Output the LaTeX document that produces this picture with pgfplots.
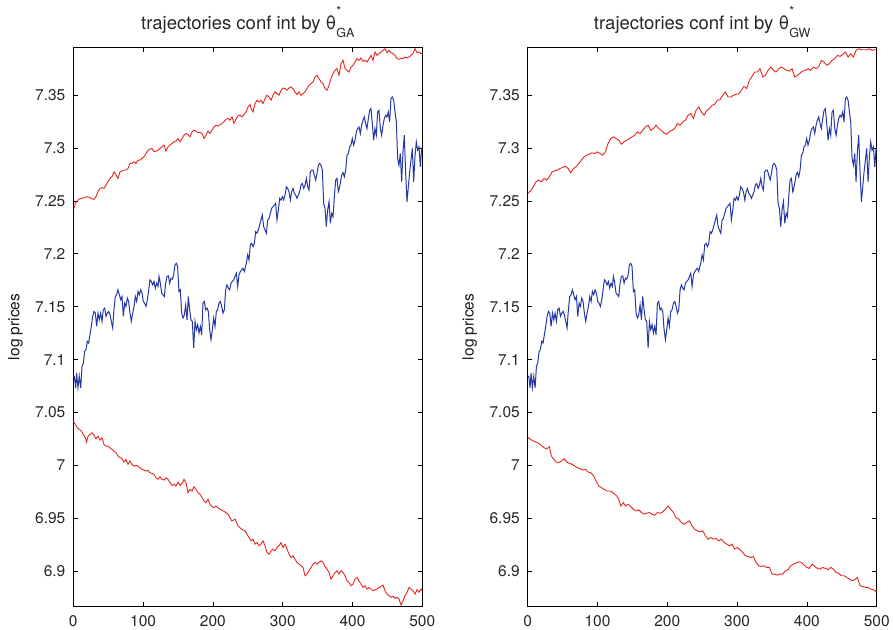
\documentclass[border=0pt]{standalone}
\usepackage{pgfplots}
\pgfplotsset{compat=1.18}
\usepackage{pgfplotstable}
\usepackage{fontspec}
\setmainfont{TeX Gyre Heros}
\definecolor{tblue}{RGB}{38,56,166}
\definecolor{tred}{RGB}{230,38,30}

% blue trajectory (same in both panels)
\pgfplotstableread{
x y
0 7.0840
1.5 7.0843
3.4 7.0733
4.8 7.0874
6.7 7.0733
8.6 7.0843
10.6 7.0733
12.5 7.0937
14.4 7.0968
16.3 7.1078
18.2 7.1094
20.1 7.1173
22.0 7.1157
23.9 7.1236
25.8 7.1314
27.8 7.1409
29.7 7.1456
31.6 7.1440
33.5 7.1314
35.4 7.1440
37.3 7.1377
39.2 7.1440
41.1 7.1362
43.0 7.1472
45.0 7.1487
46.9 7.1409
48.8 7.1440
50.7 7.1456
52.6 7.1424
54.5 7.1362
56.4 7.1299
58.3 7.1472
60.2 7.1597
62.1 7.1613
64.0 7.1660
66.0 7.1613
67.9 7.1566
69.8 7.1597
71.7 7.1409
73.6 7.1534
75.5 7.1503
77.4 7.1582
79.3 7.1550
81.2 7.1440
83.1 7.1362
85.1 7.1440
87.0 7.1503
88.9 7.1597
90.8 7.1550
92.7 7.1645
94.6 7.1613
96.5 7.1660
98.4 7.1629
100.3 7.1550
102.2 7.1534
104.2 7.1503
106.1 7.1566
108.0 7.1660
109.9 7.1755
111.8 7.1739
113.7 7.1707
115.6 7.1739
117.5 7.1676
119.4 7.1723
121.4 7.1692
122.8 7.1786
124.7 7.1723
126.6 7.1628
128.5 7.1613
130.4 7.1597
132.3 7.1723
134.2 7.1786
136.2 7.1792
138.1 7.1723
140.0 7.1770
141.9 7.1761
143.8 7.1801
145.7 7.1896
147.6 7.1911
149.5 7.1880
151.4 7.1644
153.3 7.1660
155.3 7.1440
157.2 7.1393
159.1 7.1424
161.0 7.1518
162.9 7.1377
164.8 7.1597
166.7 7.1471
168.6 7.1377
170.5 7.1361
172.5 7.1110
174.4 7.1361
176.3 7.1283
178.2 7.1330
180.1 7.1251
182.0 7.1314
183.9 7.1235
185.8 7.1534
187.7 7.1550
189.6 7.1471
191.6 7.1487
193.5 7.1455
195.4 7.1283
197.3 7.1188
199.2 7.1283
201.1 7.1393
203.0 7.1314
204.9 7.1455
206.8 7.1471
208.7 7.1534
210.7 7.1550
212.6 7.1503
214.5 7.1440
216.4 7.1471
218.3 7.1660
220.2 7.1707
222.1 7.1676
224.0 7.1660
225.9 7.1723
227.8 7.1739
229.8 7.1754
231.7 7.1786
233.6 7.1817
235.5 7.1691
237.4 7.1801
239.3 7.1833
241.2 7.1849
243.1 7.1864
245.0 7.1833
247.9 7.1912
249.8 7.1990
251.7 7.1943
253.6 7.2085
255.6 7.2100
257.5 7.2069
259.4 7.2100
261.3 7.2210
263.2 7.2195
265.1 7.2226
267.0 7.2273
268.9 7.2321
270.8 7.2368
272.7 7.2258
274.7 7.2226
276.6 7.2195
278.5 7.2321
280.4 7.2336
282.3 7.2383
284.2 7.2431
286.1 7.2446
288.0 7.2462
289.9 7.2478
291.8 7.2321
293.8 7.2415
295.7 7.2525
297.6 7.2509
299.5 7.2541
301.4 7.2509
303.3 7.2556
305.2 7.2635
307.1 7.2619
309.0 7.2588
311.0 7.2509
312.9 7.2588
314.8 7.2619
316.7 7.2572
318.6 7.2556
320.5 7.2525
322.4 7.2556
324.3 7.2588
326.2 7.2651
328.1 7.2666
330.1 7.2619
332.0 7.2651
333.9 7.2714
335.8 7.2635
337.7 7.2604
339.6 7.2777
341.5 7.2792
343.4 7.2792
345.3 7.2745
347.3 7.2698
349.2 7.2761
351.1 7.2839
353.0 7.2855
354.9 7.2839
356.8 7.2792
358.7 7.2478
360.6 7.2431
362.5 7.2258
364.4 7.2415
366.4 7.2493
368.3 7.2289
370.2 7.2383
372.1 7.2352
374.0 7.2541
375.9 7.2698
377.8 7.2714
379.7 7.2588
380.6 7.2603
382.5 7.2666
384.5 7.2745
386.4 7.2770
388.3 7.2729
390.2 7.2792
392.1 7.2934
394.0 7.2949
395.9 7.3012
397.8 7.3028
399.7 7.3091
401.6 7.3028
403.6 7.3075
405.5 7.3154
407.4 7.3185
409.3 7.3201
411.2 7.3138
413.1 7.3217
415.0 7.3264
416.9 7.3295
418.8 7.3232
420.7 7.3185
422.7 7.3280
424.6 7.3358
426.5 7.3374
428.4 7.3232
430.3 7.3075
432.2 7.3185
434.1 7.3122
436.0 7.3342
437.9 7.3358
439.9 7.3185
441.8 7.3122
443.7 7.3217
445.6 7.3280
447.5 7.3311
449.4 7.3295
451.3 7.3342
453.2 7.3248
455.1 7.3468
457.0 7.3484
459.0 7.3452
460.9 7.3342
462.8 7.3248
464.7 7.2902
466.6 7.2839
468.5 7.2949
470.4 7.2682
472.3 7.2965
474.2 7.3122
476.1 7.2776
478.1 7.2493
480.0 7.2635
481.9 7.2776
483.8 7.2886
485.7 7.2997
487.6 7.2682
489.5 7.2918
491.4 7.3059
493.3 7.2981
495.3 7.3012
497.2 7.2823
499.1 7.2997
500 7.3010
}\blueT

% upper bound, left panel
\pgfplotstableread{
x y
0 7.2430
1.0 7.2431
2.9 7.2478
4.8 7.2494
8.6 7.2519
12.5 7.2525
16.3 7.2532
20.1 7.2541
24.0 7.2532
26.8 7.2519
29.7 7.2516
32.5 7.2541
35.4 7.2588
38.3 7.2620
41.1 7.2626
44.0 7.2620
46.9 7.2651
49.7 7.2683
52.6 7.2714
55.5 7.2730
58.3 7.2777
61.2 7.2745
64.0 7.2714
66.9 7.2777
69.8 7.2783
72.6 7.2793
75.5 7.2793
78.4 7.2808
81.2 7.2856
84.1 7.2856
87.0 7.2871
89.8 7.2856
92.7 7.2887
95.6 7.2887
98.4 7.2903
101.3 7.2918
104.2 7.2950
107.0 7.2981
109.9 7.2991
112.8 7.2997
115.6 7.2966
118.5 7.2972
121.4 7.2981
124.2 7.2997
127.1 7.3013
130.0 7.3029
132.8 7.2972
135.7 7.3013
138.5 7.3029
141.4 7.3044
144.3 7.3060
147.1 7.3066
150.0 7.3091
152.9 7.3060
155.7 7.3091
158.6 7.3123
161.5 7.3139
164.3 7.3129
167.2 7.3107
170.1 7.3154
172.9 7.3170
175.8 7.3161
178.7 7.3148
181.5 7.3148
184.4 7.3139
187.3 7.3091
190.1 7.3123
193.0 7.3161
195.9 7.3139
198.7 7.3170
201.6 7.3202
204.5 7.3217
207.3 7.3208
210.2 7.3224
213.1 7.3233
215.9 7.3249
218.8 7.3274
221.7 7.3280
224.5 7.3264
227.4 7.3296
230.2 7.3233
233.1 7.3274
236.0 7.3305
238.8 7.3312
241.7 7.3296
244.6 7.3318
247.4 7.3343
250.3 7.3390
253.2 7.3412
254.6 7.3374
257.5 7.3343
260.3 7.3422
263.2 7.3453
266.1 7.3437
268.9 7.3453
271.8 7.3422
274.7 7.3469
277.5 7.3500
280.4 7.3485
283.3 7.3453
286.1 7.3500
289.0 7.3532
291.8 7.3516
294.7 7.3500
297.6 7.3547
300.4 7.3569
303.3 7.3563
306.2 7.3547
309.0 7.3569
311.9 7.3579
314.8 7.3563
317.6 7.3532
320.5 7.3507
323.4 7.3532
326.2 7.3500
329.1 7.3516
332.0 7.3532
334.8 7.3563
337.7 7.3595
340.6 7.3610
343.4 7.3626
346.3 7.3673
349.2 7.3689
352.0 7.3658
354.9 7.3626
357.8 7.3610
360.6 7.3563
363.5 7.3547
366.4 7.3595
369.2 7.3658
372.1 7.3705
375.0 7.3736
377.8 7.3752
380.7 7.3689
383.5 7.3799
386.4 7.3831
389.3 7.3752
392.1 7.3736
395.0 7.3720
397.9 7.3768
400.7 7.3783
403.6 7.3815
406.5 7.3846
409.3 7.3830
412.2 7.3852
415.1 7.3821
417.9 7.3830
420.8 7.3815
423.7 7.3846
426.5 7.3878
429.4 7.3830
432.3 7.3909
435.1 7.3878
438.0 7.3893
440.9 7.3909
443.7 7.3925
446.6 7.3941
449.5 7.3903
452.3 7.3925
455.2 7.3903
458.1 7.3893
460.9 7.3878
463.8 7.3846
466.7 7.3840
469.5 7.3852
472.4 7.3846
475.2 7.3862
478.1 7.3852
481.0 7.3862
483.8 7.3878
486.7 7.3893
489.6 7.3941
492.4 7.3903
495.3 7.3909
498.2 7.3893
500 7.3900
}\redupA

% lower bound, left panel
\pgfplotstableread{
x y
0 7.0418
2.9 7.0387
5.8 7.0355
8.6 7.0339
11.5 7.0324
14.4 7.0292
17.2 7.0261
19.1 7.0220
21.1 7.0276
24.0 7.0292
26.8 7.0308
29.7 7.0283
32.5 7.0251
35.4 7.0276
38.3 7.0239
41.1 7.0261
44.0 7.0198
46.9 7.0182
49.7 7.0182
52.6 7.0166
55.5 7.0151
58.3 7.0135
61.2 7.0119
64.0 7.0088
66.9 7.0072
69.8 7.0063
72.6 7.0031
75.5 7.0056
78.4 7.0009
81.2 7.0041
84.1 7.0009
87.0 6.9993
89.8 6.9999
92.7 6.9993
95.6 6.9978
98.4 6.9962
101.3 6.9956
104.2 6.9946
107.0 6.9952
109.9 6.9930
112.8 6.9924
115.6 6.9915
118.5 6.9883
121.4 6.9868
124.2 6.9890
127.1 6.9868
130.0 6.9861
132.8 6.9883
135.7 6.9868
138.5 6.9836
141.4 6.9811
144.3 6.9820
147.1 6.9805
150.0 6.9842
152.9 6.9811
155.7 6.9830
158.6 6.9868
161.5 6.9836
164.3 6.9742
167.2 6.9773
170.1 6.9757
172.9 6.9798
175.8 6.9773
178.7 6.9742
181.5 6.9726
184.4 6.9695
187.3 6.9663
190.1 6.9647
193.0 6.9679
195.9 6.9632
198.7 6.9610
201.6 6.9600
204.5 6.9616
207.3 6.9597
210.2 6.9585
215.0 6.9569
222.0 6.9538
227.0 6.9475
232.0 6.9491
236.0 6.9428
241.0 6.9396
246.0 6.9381
248.9 6.9349
251.7 6.9318
254.6 6.9286
257.5 6.9302
260.3 6.9255
263.2 6.9270
266.1 6.9239
268.9 6.9255
271.8 6.9286
274.7 6.9239
277.5 6.9176
280.4 6.9160
283.3 6.9192
286.1 6.9208
289.0 6.9192
291.8 6.9223
294.7 6.9239
297.6 6.9270
300.4 6.9223
303.3 6.9255
306.2 6.9208
309.0 6.9160
311.9 6.9129
314.8 6.9145
317.6 6.9113
320.5 6.9082
323.4 6.9066
326.2 6.9050
329.1 6.9035
332.0 6.8956
334.8 6.8972
337.7 6.9003
340.6 6.9035
343.4 6.9066
346.3 6.9082
349.2 6.9066
352.0 6.9082
354.9 6.9097
357.8 6.9082
360.6 6.9044
363.5 6.9019
366.4 6.8987
369.2 6.8924
372.1 6.8956
375.0 6.8987
377.8 6.9003
380.7 6.8972
383.5 6.9003
386.4 6.8987
389.3 6.8956
392.1 6.8909
395.0 6.8893
397.9 6.8862
400.7 6.8877
403.6 6.8924
406.5 6.8940
409.3 6.8909
412.2 6.8877
415.1 6.8846
417.9 6.8862
420.8 6.8830
423.7 6.8846
426.5 6.8830
429.4 6.8814
432.3 6.8824
435.1 6.8830
438.0 6.8846
440.9 6.8855
443.7 6.8868
446.6 6.8814
449.5 6.8783
452.3 6.8767
455.2 6.8752
458.1 6.8761
460.9 6.8742
463.8 6.8752
466.7 6.8736
469.5 6.8679
472.4 6.8720
475.2 6.8767
478.1 6.8799
481.0 6.8846
483.8 6.8830
486.7 6.8814
489.6 6.8783
492.4 6.8824
495.3 6.8799
498.2 6.8830
500 6.8810
}\redloA

% upper bound, right panel
\pgfplotstableread{
x y
0 7.2570
1.0 7.2578
4.3 7.2597
8.1 7.2635
11.9 7.2682
15.8 7.2698
19.6 7.2682
23.4 7.2713
27.2 7.2698
31.1 7.2729
34.9 7.2776
38.7 7.2786
42.5 7.2792
46.3 7.2808
50.2 7.2817
54.0 7.2830
57.8 7.2808
61.6 7.2767
65.4 7.2808
69.3 7.2824
73.1 7.2855
76.9 7.2886
80.7 7.2918
84.5 7.2934
88.4 7.2943
92.2 7.2956
96.0 7.2949
99.8 7.2965
103.6 7.2949
107.5 7.2934
111.3 7.2965
115.1 7.3044
118.9 7.3091
122.8 7.3107
126.6 7.3091
130.4 7.3075
134.2 7.3037
138.0 7.3059
141.9 7.3075
145.7 7.3091
149.5 7.3107
153.3 7.3122
157.1 7.3154
161.0 7.3138
164.8 7.3169
168.6 7.3201
172.4 7.3217
176.2 7.3169
180.1 7.3185
183.9 7.3217
187.7 7.3185
191.5 7.3169
195.3 7.3144
199.2 7.3132
203.0 7.3154
206.8 7.3169
210.6 7.3185
214.5 7.3232
218.3 7.3217
222.1 7.3248
225.9 7.3264
229.7 7.3311
233.6 7.3327
237.4 7.3280
241.2 7.3358
245.0 7.3390
248.8 7.3342
252.7 7.3311
256.5 7.3358
260.3 7.3374
264.1 7.3405
267.9 7.3415
271.8 7.3453
275.6 7.3459
279.4 7.3500
283.2 7.3531
287.1 7.3484
290.9 7.3484
294.7 7.3500
298.5 7.3509
302.3 7.3515
306.2 7.3547
310.0 7.3585
313.8 7.3563
317.6 7.3641
321.4 7.3679
325.3 7.3720
329.1 7.3720
332.9 7.3751
336.7 7.3673
340.5 7.3688
344.4 7.3736
348.2 7.3767
352.0 7.3736
355.8 7.3720
359.6 7.3751
363.5 7.3767
367.3 7.3751
371.1 7.3736
374.9 7.3729
378.7 7.3751
382.6 7.3673
386.4 7.3688
390.2 7.3710
394.0 7.3729
397.9 7.3736
401.7 7.3751
405.5 7.3736
409.3 7.3767
413.1 7.3751
417.0 7.3773
420.8 7.3830
424.6 7.3814
428.4 7.3783
432.2 7.3798
436.1 7.3830
439.9 7.3846
443.7 7.3877
447.5 7.3868
451.3 7.3887
455.2 7.3909
459.0 7.3861
462.8 7.3893
466.6 7.3861
470.4 7.3924
474.3 7.3940
478.1 7.3931
481.9 7.3931
485.7 7.3931
489.5 7.3940
493.4 7.3924
497.2 7.3931
500 7.3930
}\redupB

% lower bound, right panel
\pgfplotstableread{
x y
0 7.0265
1.0 7.0261
4.3 7.0245
8.1 7.0230
11.9 7.0220
15.8 7.0208
19.6 7.0189
23.4 7.0167
27.2 7.0157
31.1 7.0176
33.9 7.0088
36.8 7.0063
40.6 7.0032
44.4 7.0025
48.2 7.0041
52.1 7.0063
55.9 7.0032
59.7 7.0019
63.5 7.0010
67.4 6.9994
71.2 6.9978
75.0 6.9969
78.8 6.9956
82.6 6.9962
86.5 6.9937
90.3 6.9931
94.1 6.9906
97.9 6.9852
101.7 6.9805
105.6 6.9789
109.4 6.9774
113.2 6.9758
117.0 6.9758
120.8 6.9749
124.7 6.9727
127.5 6.9711
130.4 6.9679
133.3 6.9616
137.1 6.9648
139.9 6.9616
143.8 6.9632
147.6 6.9610
151.4 6.9585
155.2 6.9569
159.1 6.9579
162.9 6.9554
166.7 6.9538
170.5 6.9547
174.3 6.9554
178.2 6.9538
182.0 6.9528
185.8 6.9554
189.6 6.9547
193.4 6.9560
197.3 6.9585
201.1 6.9616
204.9 6.9585
208.7 6.9554
212.5 6.9506
216.4 6.9491
220.2 6.9459
224.0 6.9443
227.8 6.9459
231.6 6.9475
235.5 6.9428
239.3 6.9396
243.1 6.9381
246.9 6.9371
250.8 6.9381
254.6 6.9333
258.4 6.9302
262.2 6.9318
266.0 6.9302
269.9 6.9308
273.7 6.9286
277.5 6.9302
281.3 6.9271
285.1 6.9255
289.0 6.9239
292.8 6.9255
296.6 6.9208
300.4 6.9223
304.2 6.9201
308.1 6.9176
311.9 6.9145
315.7 6.9138
319.5 6.9129
323.3 6.9138
327.2 6.9082
331.0 6.9050
334.8 6.9044
338.6 6.9050
342.4 6.9035
346.3 6.9035
350.1 6.8972
353.9 6.8972
357.7 6.8962
361.6 6.8972
365.4 6.8972
369.2 6.9003
373.0 6.9013
376.8 6.9050
380.7 6.9066
384.5 6.9076
388.3 6.9088
392.1 6.9082
395.9 6.9057
399.8 6.9035
403.6 6.9025
407.4 6.9066
411.2 6.9044
415.0 6.9025
418.9 6.9019
422.7 6.9035
426.5 6.9025
430.3 6.9013
434.1 6.9035
438.0 6.9019
441.8 6.8987
445.6 6.8981
449.4 6.8956
453.3 6.8956
457.1 6.8940
460.9 6.8925
464.7 6.8909
468.5 6.8918
472.4 6.8940
476.2 6.8862
480.0 6.8855
483.8 6.8846
487.6 6.8846
491.5 6.8830
495.3 6.8824
499.1 6.8805
500 6.8805
}\redloB

\newcommand{\tickfont}{\fontsize{15.5}{18}\selectfont}
\newcommand{\ttl}[1]{trajectories conf int by θ\rlap{\raisebox{14pt}{\fontsize{12.5}{14}\selectfont *}}\raisebox{-8pt}{\fontsize{12.5}{14}\selectfont #1}}

\pgfplotsset{
  panel/.style={
    scale only axis, width=349pt, height=558.3pt,
    xmin=0, xmax=500, ymin=6.867, ymax=7.395,
    xtick={0,100,200,300,400,500},
    xticklabels={0,100,200,300,400,500},
    ytick={6.9,6.95,7,7.05,7.1,7.15,7.2,7.25,7.3,7.35},
    yticklabels={6.9,6.95,7,7.05,7.1,7.15,7.2,7.25,7.3,7.35},
    tick align=inside, major tick length=4.5pt,
    line width=0.9pt,
    every tick/.style={black, line width=0.8pt},
    tick label style={font=\tickfont, text=black!85},
    xticklabel style={inner sep=0pt, anchor=north, yshift=-9pt},
    yticklabel style={inner sep=0pt, anchor=east, xshift=-7.5pt},
    every axis title/.style={at={(0.5,1)}, anchor=base, yshift=17.7pt,
      font=\fontsize{18.5}{22}\selectfont, text=black!85},
    every axis y label/.style={at={(axis description cs:-0.166,0.5)},
      rotate=90, anchor=center, font=\tickfont, text=black!90},
    ylabel={log prices},
  }
}

\begin{document}
\begin{tikzpicture}
\begin{axis}[panel, title={\ttl{GA}}]
  \addplot[tred, line width=0.9pt] table {\redupA};
  \addplot[tblue, line width=1pt] table {\blueT};
  \addplot[tred, line width=0.9pt] table {\redloA};
\end{axis}
\begin{axis}[panel, at={(454.4pt,0pt)}, title={\ttl{GW}}]
  \addplot[tred, line width=0.9pt] table {\redupB};
  \addplot[tblue, line width=1pt] table {\blueT};
  \addplot[tred, line width=0.9pt] table {\redloB};
\end{axis}
\pgfresetboundingbox
\path (-73.3pt,-23pt) rectangle (819.7pt,606pt);
\end{tikzpicture}
\end{document}
